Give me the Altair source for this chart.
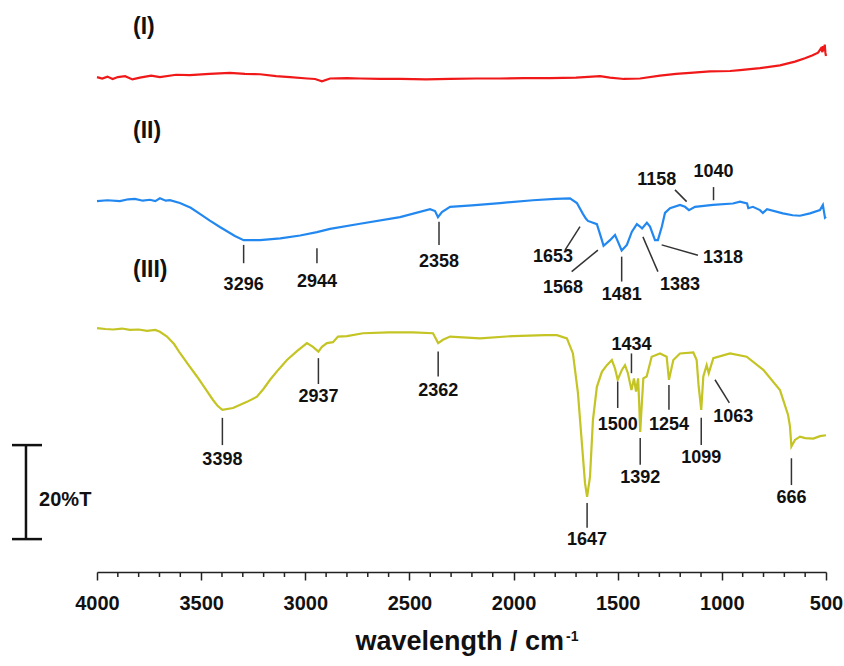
import altair as alt
import pandas as pd

FONT = "Liberation Sans"

# ---------------- spectra (wavenumber, displayed %T with offsets) ----------------
I_wn = [4000, 3975, 3950, 3925, 3900, 3865, 3830, 3794, 3740, 3698, 3620, 3554, 3460, 3362, 3290,
        3217, 3140, 3073, 2990, 2953, 2920, 2881, 2800, 2737, 2640, 2545, 2420, 2305, 2180, 2065,
        1950, 1825, 1700, 1585, 1537, 1470, 1393, 1297, 1220, 1153, 1057, 960, 913, 817, 721,
        649, 601, 567, 538, 524, 517, 514, 510, 506, 503, 500]
I_T = [105.3, 105.0, 105.4, 104.9, 105.3, 105.5, 104.8, 105.2, 105.6, 105.3, 105.8, 105.7, 106.0, 106.2, 106.0,
       105.9, 105.5, 105.3, 105.0, 104.9, 104.4, 105.0, 105.1, 105.0, 104.9, 104.9, 104.8, 104.9, 105.0, 105.0,
       105.1, 105.1, 105.2, 105.5, 105.2, 104.9, 105.0, 105.6, 106.0, 106.2, 106.5, 106.6, 106.8, 107.2, 107.8,
       108.6, 109.3, 109.9, 110.5, 111.4, 110.6, 111.9, 110.9, 112.2, 110.5, 109.8]

II_wn = [4000, 3950, 3890, 3850, 3818, 3780, 3746, 3720, 3698, 3670, 3650, 3602, 3550, 3506, 3460,
         3410, 3338, 3296, 3217, 3120, 3025, 2944, 2881, 2737, 2545, 2401, 2377, 2363, 2344, 2305,
         2200, 2065, 1907, 1800, 1729, 1696, 1667, 1653, 1643, 1600, 1576, 1568, 1537, 1513, 1499,
         1481, 1456, 1432, 1408, 1393, 1383, 1360, 1345, 1321, 1307, 1288, 1273, 1249, 1201, 1177,
         1158, 1129, 1043, 947, 913, 879, 873, 851, 817, 803, 783, 707, 660, 625, 577,
         529, 515, 505, 500]
II_T = [78.9, 79.1, 78.9, 79.3, 79.4, 79.0, 79.2, 78.9, 79.5, 79.0, 79.1, 78.5, 77.5, 76.2, 74.8,
        73.4, 71.5, 70.6, 70.6, 71.0, 71.6, 72.3, 73.0, 74.1, 75.5, 77.2, 76.8, 75.5, 76.6, 77.7,
        78.0, 78.5, 79.1, 79.4, 79.5, 78.5, 76.2, 75.2, 74.7, 74.0, 70.6, 69.4, 70.6, 71.7, 70.3,
        68.4, 69.6, 72.4, 74.0, 73.5, 73.1, 74.3, 73.5, 70.6, 70.6, 73.5, 76.4, 77.4, 78.1, 77.7,
        77.0, 77.7, 78.1, 78.4, 78.8, 78.4, 77.4, 77.7, 77.0, 76.4, 77.2, 76.3, 75.9, 75.8, 76.3,
        77.0, 78.1, 75.4, 75.6]

III_wn = [4000, 3960, 3923, 3880, 3842, 3800, 3760, 3720, 3698, 3664, 3630, 3602, 3560, 3520, 3480,
          3443, 3420, 3398, 3347, 3280, 3232, 3200, 3169, 3130, 3088, 3040, 2992, 2963, 2937, 2920,
          2896, 2867, 2843, 2800, 2723, 2600, 2483, 2387, 2362, 2339, 2305, 2161, 2003, 1850, 1792,
          1744, 1715, 1691, 1672, 1657, 1647, 1633, 1619, 1600, 1576, 1552, 1528, 1513, 1500, 1480,
          1465, 1451, 1434, 1422, 1412, 1402, 1397, 1392, 1386, 1377, 1361, 1337, 1297, 1265, 1254,
          1233, 1201, 1137, 1121, 1112, 1099, 1089, 1073, 1063, 1041, 961, 881, 801, 721, 682,
          673, 666, 649, 625, 600, 561, 529, 500]
III_T = [51.9, 51.7, 51.6, 51.8, 51.5, 51.6, 51.3, 51.5, 51.1, 50.1, 48.5, 46.6, 44.0, 41.6, 39.0,
         36.6, 35.3, 34.5, 34.9, 36.2, 37.3, 39.0, 40.9, 43.0, 45.1, 47.0, 48.7, 47.9, 46.9, 47.9,
         48.7, 48.9, 50.1, 50.2, 50.8, 51.0, 51.0, 50.8, 48.7, 49.4, 50.1, 49.7, 50.2, 50.4, 50.4,
         49.7, 46.5, 38.1, 27.4, 18.9, 16.0, 20.3, 32.3, 39.4, 42.6, 44.0, 45.1, 43.3, 40.9, 43.0,
         44.0, 42.3, 38.7, 41.2, 38.4, 41.2, 36.0, 29.8, 34.5, 41.2, 41.6, 45.8, 46.5, 45.8, 40.9,
         45.1, 46.5, 46.7, 45.1, 39.8, 34.5, 41.6, 44.0, 42.3, 45.5, 46.5, 45.8, 43.0, 38.7, 33.4,
         31.0, 26.7, 28.1, 28.8, 28.5, 28.4, 28.9, 29.1]

series_names = ["I", "II", "III"]
series_colors = ["#f01818", "#2288f0", "#c4c424"]

# ---------------- peak annotations ----------------
peak_text = ["3296", "2944", "2358", "1653", "1568", "1481", "1383", "1318", "1158", "1040",
             "3398", "2937", "2362", "1647", "1500", "1434", "1392", "1254", "1099", "1063", "666"]
peak_label_wn = [3296, 2944, 2358, 1811, 1763, 1481, 1201, 995, 1313, 1040,
                 3398, 2937, 2362, 1647, 1500, 1434, 1392, 1254, 1099, 945, 666]
peak_label_T = [61.1, 61.7, 66.0, 67.0, 60.4, 58.9, 61.1, 66.8, 83.4, 85.2,
                23.8, 37.2, 38.6, 6.8, 31.3, 48.3, 20.0, 31.3, 24.2, 33.0, 15.7]
lead_wn1 = [3296, 2944, 2358, 1753, 1721, 1481, 1379, 1289, 1225, 1040,
            3398, 2937, 2362, 1647, 1500, 1434, 1392, 1254, 1099, 1033, 666]
lead_T1 = [69.6, 68.9, 74.5, 68.5, 63.9, 67.1, 71.3, 69.6, 81.3, 81.9,
           32.8, 45.5, 46.9, 14.7, 40.5, 46.5, 28.5, 39.8, 32.8, 40.9, 24.2]
lead_wn2 = [3296, 2944, 2358, 1681, 1595, 1481, 1307, 1115, 1169, 1040,
            3398, 2937, 2362, 1647, 1500, 1434, 1392, 1254, 1099, 964, 666]
lead_T2 = [65.7, 65.7, 69.6, 73.5, 68.5, 61.8, 63.9, 67.4, 78.8, 79.1,
           27.0, 40.0, 41.6, 9.4, 34.9, 42.3, 22.8, 34.5, 27.0, 36.0, 18.5]

# series labels
tag_text = ["(I)", "(II)", "(III)"]
tag_wn = [3827, 3827, 3827]
tag_T = [116.0, 93.8, 64.3]

# 20 %T scale bar
bar_wn = 4341
bar_cap = [4408, 4264]
bar_T = [7.0, 27.0]
bar_text = "20%T"
bar_text_wn = 4278
bar_text_T = 15.3

# axis ticks
major_ticks = [4000, 3500, 3000, 2500, 2000, 1500, 1000, 500]
minor_ticks = [v for v in range(500, 4001, 100) if v % 500 != 0]
minor_len = -1.06

# axis title
title_main = "wavelength / cm"
title_sup = "-1"
title_wn = [1758, 1748]
title_T = [-16.6, -14.6]

# ---------------- build ----------------
X = alt.Scale(domain=[4000, 500], nice=False, zero=False)
Y = alt.Scale(domain=[0, 120], nice=False, zero=False)
xax = alt.Axis(values=major_ticks, format="d", title=None, grid=False)


def xenc(field="wn"):
    return alt.X(f"{field}:Q", scale=X, axis=xax)


def yenc(field="T"):
    return alt.Y(f"{field}:Q", scale=Y, axis=None)


spec = pd.concat([
    pd.DataFrame({"wn": I_wn, "T": I_T, "series": "I"}),
    pd.DataFrame({"wn": II_wn, "T": II_T, "series": "II"}),
    pd.DataFrame({"wn": III_wn, "T": III_T, "series": "III"}),
])

lines = alt.Chart(spec).mark_line(strokeWidth=2.2).encode(
    x=xenc(), y=yenc(),
    color=alt.Color("series:N", scale=alt.Scale(domain=series_names, range=series_colors), legend=None),
    detail="series:N",
)

peaks = pd.DataFrame({"text": peak_text, "wn": peak_label_wn, "T": peak_label_T})
leads = pd.DataFrame({"wn": lead_wn1, "T": lead_T1, "wn2": lead_wn2, "T2": lead_T2})

lead_rules = alt.Chart(leads).mark_rule(color="#333333", strokeWidth=1.5).encode(
    x=xenc(), x2="wn2:Q", y=yenc(), y2="T2:Q"
)
peak_labels = alt.Chart(peaks).mark_text(
    font=FONT, fontSize=18, fontWeight="bold", color="#111111", baseline="middle", align="center"
).encode(x=xenc(), y=yenc(), text="text:N")

tags = alt.Chart(pd.DataFrame({"text": tag_text, "wn": tag_wn, "T": tag_T})).mark_text(
    font=FONT, fontSize=23, fontWeight="bold", color="#111111", baseline="middle", align="left"
).encode(x=xenc(), y=yenc(), text="text:N")

bar_df = pd.DataFrame({
    "wn": [bar_wn, bar_cap[0], bar_cap[0]],
    "wn2": [bar_wn, bar_cap[1], bar_cap[1]],
    "T": [bar_T[0], bar_T[0], bar_T[1]],
    "T2": [bar_T[1], bar_T[0], bar_T[1]],
})
bar = alt.Chart(bar_df).mark_rule(color="#111111", strokeWidth=2.5).encode(
    x=xenc(), x2="wn2:Q", y=yenc(), y2="T2:Q"
)
bar_label = alt.Chart(pd.DataFrame({"text": [bar_text], "wn": [bar_text_wn], "T": [bar_text_T]})).mark_text(
    font=FONT, fontSize=20, fontWeight="bold", color="#111111", baseline="middle", align="left"
).encode(x=xenc(), y=yenc(), text="text:N")

minor = alt.Chart(pd.DataFrame({"wn": minor_ticks, "T": 0.0, "T2": minor_len})).mark_rule(
    color="#222222", strokeWidth=1.5
).encode(x=xenc(), y=yenc(), y2="T2:Q")

title1 = alt.Chart(pd.DataFrame({"text": [title_main], "wn": [title_wn[0]], "T": [title_T[0]]})).mark_text(
    font=FONT, fontSize=27, fontWeight="bold", color="#111111", baseline="alphabetic", align="right"
).encode(x=xenc(), y=yenc(), text="text:N")
title2 = alt.Chart(pd.DataFrame({"text": [title_sup], "wn": [title_wn[1]], "T": [title_T[1]]})).mark_text(
    font=FONT, fontSize=14, fontWeight="bold", color="#111111", baseline="alphabetic", align="left"
).encode(x=xenc(), y=yenc(), text="text:N")

chart = alt.layer(
    lines, lead_rules, peak_labels, tags, bar, bar_label, minor, title1, title2
).properties(
    width=729, height=564,
    padding={"left": 97, "top": 8, "right": 18, "bottom": 94},
    autosize=alt.AutoSizeParams(type="none"),
    background="white",
).configure_view(stroke=None).configure_axisX(
    domainColor="#222222", domainWidth=1.5, tickColor="#222222", tickWidth=1.5, tickSize=8,
    labelFont=FONT, labelFontSize=20, labelFontWeight="bold", labelColor="#111111",
    labelPadding=13, labelFlush=False, labelOverlap=False,
)

chart.save("out.html", embed_options={"renderer": "svg", "actions": False})
